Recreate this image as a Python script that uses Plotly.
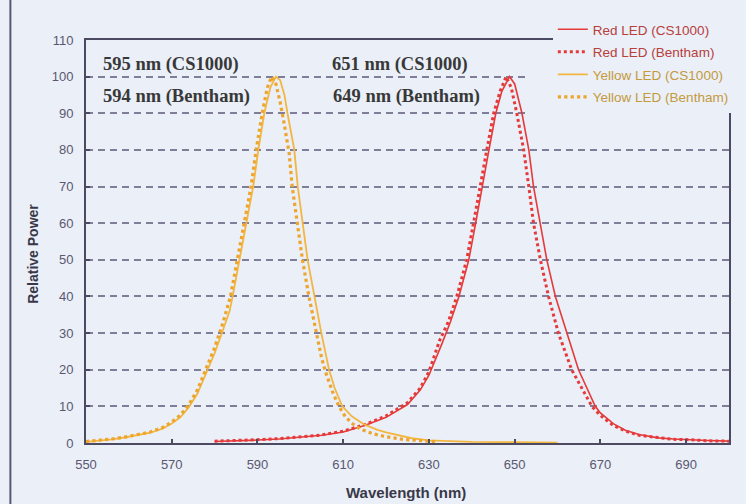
import plotly.graph_objects as go

# ---------------- data ----------------
yellow_cs_wl = [550, 553, 556, 559, 562, 565, 568, 570, 572, 574, 576, 578, 580, 582, 583.5,
                584.2, 585.8, 587.4, 589, 590.2, 591.6, 593, 594.3, 595.3, 596.3, 597, 598.6,
                599.4, 600.5, 601.7, 603.3, 604.9, 606.7, 608, 609.8, 612, 615, 618,
                620, 623, 626, 630, 635, 640, 650, 660]
yellow_cs_val = [0.3, 0.6, 1.0, 1.5, 2.1, 2.8, 4.0, 5.3, 7.0, 9.8, 13.5, 18.8, 24.5, 31.0, 36.0,
                 40, 50, 60, 70, 80, 90, 97, 100, 99, 95, 90, 80,
                 70, 60, 50, 40, 30, 20, 15, 10, 7.3, 5.0, 3.6,
                 2.9, 2.0, 1.3, 0.7, 0.4, 0.3, 0.2, 0.1]

yellow_bt_wl = [550, 553, 556, 559, 562, 565, 568, 570, 572, 574, 576, 578, 580, 582, 583.7,
                585.3, 586.9, 588.5, 589.7, 591.1, 592.3, 593.3, 594.3, 595.3, 596.4, 597.4,
                598.1, 599.3, 600.5, 602, 603.7, 605, 606, 607.5, 609, 610.5, 612, 614, 617,
                620, 624, 628, 632]
yellow_bt_val = [0.4, 0.7, 1.1, 1.6, 2.3, 3.0, 4.3, 5.7, 7.6, 10.5, 14.5, 20, 26, 33, 40,
                 50, 60, 70, 80, 90, 97, 100, 98, 93, 86, 79,
                 70, 60, 50, 40, 30, 23, 19, 14, 10, 7.2, 5.4, 3.8, 2.5,
                 1.7, 1.0, 0.6, 0.3]

red_cs_wl = [580, 585, 590, 595, 600, 605, 610, 615, 620, 625, 628, 630, 633, 635, 637, 639.3,
             640.9, 642.4, 644, 645.6, 647, 648.8, 650, 651.7, 653.3, 654.4, 656, 657.5,
             659.5, 662.2, 664.9, 668.8, 670, 673, 675.8, 679, 683.5, 687, 691, 695, 700]
red_cs_val = [0.4, 0.5, 0.8, 1.1, 1.5, 2.1, 3.0, 4.8, 7.0, 10.5, 14.5, 18.5, 27, 33, 40, 50,
              60, 70, 80, 90, 96, 100, 98, 90, 80, 70, 60, 50,
              40, 30, 20, 10, 8.2, 5.3, 3.5, 2.3, 1.4, 1.1, 1.0, 0.7, 0.5]

red_bt_wl = [580, 585, 590, 595, 600, 605, 610, 615, 620, 625, 628, 630, 632.5, 634.5, 636.5, 638.8,
             640.4, 641.9, 643.5, 645.1, 646.6, 648, 649.2, 650.5, 652.1, 653.3, 654.4, 656,
             657.9, 660.2, 663.3, 668, 670, 673, 676, 679, 684, 687, 691, 695, 700]
red_bt_val = [0.5, 0.6, 0.9, 1.2, 1.6, 2.2, 3.2, 5.0, 7.4, 11, 15, 19.5, 28, 33, 40, 50,
              60, 70, 80, 90, 96, 100, 97, 90, 80, 70, 60, 50,
              40, 30, 20, 10, 7.5, 4.8, 3.2, 2.1, 1.3, 1.0, 0.9, 0.6, 0.5]

series_names = ["Red LED (CS1000)", "Red LED (Bentham)", "Yellow LED (CS1000)", "Yellow LED (Bentham)"]
x_tick_vals = [550, 570, 590, 610, 630, 650, 670, 690]
x_tick_text = ["550", "570", "590", "610", "630", "650", "670", "690"]
y_tick_vals = [0, 10, 20, 30, 40, 50, 60, 70, 80, 90, 100, 110]
peak_labels = ["595 nm (CS1000)", "594 nm (Bentham)", "651 nm (CS1000)", "649 nm (Bentham)"]

# ---------------- styling ----------------
BG = "#eaeff8"
FRAME = "#4c4a62"
RED = "#e63a3a"
YEL = "#f3b640"
YEL_DOT = "#eea52c"
RED_TXT = "#b8403c"
YEL_TXT = "#c49a3c"

fig = go.Figure()
fig.add_trace(go.Scatter(x=red_cs_wl, y=red_cs_val, mode="lines", line=dict(color=RED, width=1.6),
                         name=f'<span style="color:{RED_TXT}">{series_names[0]}</span>', legendgroup="a"))
fig.add_trace(go.Scatter(x=red_bt_wl, y=red_bt_val, mode="lines", line=dict(color=RED, width=3, dash="dot"),
                         name=f'<span style="color:{RED_TXT}">{series_names[1]}</span>', legendgroup="b"))
fig.add_trace(go.Scatter(x=yellow_cs_wl, y=yellow_cs_val, mode="lines", line=dict(color=YEL, width=1.8),
                         name=f'<span style="color:{YEL_TXT}">{series_names[2]}</span>', legendgroup="c"))
fig.add_trace(go.Scatter(x=yellow_bt_wl, y=yellow_bt_val, mode="lines", line=dict(color=YEL_DOT, width=3.2, dash="dot"),
                         name=f'<span style="color:{YEL_TXT}">{series_names[3]}</span>', legendgroup="d"))

# peak annotations
ann_font = dict(family="Liberation Serif, Times New Roman, serif", size=18.5, color="#383838")
ann_pos = [(553.4, 103.4), (553.4, 94.6), (607.0, 103.4), (607.2, 94.6)]
for (ax, ay), txt in zip(ann_pos, peak_labels):
    fig.add_annotation(x=ax, y=ay, xref="x", yref="y", text=f"<b>{txt}</b>", showarrow=False,
                       xanchor="left", yanchor="middle", font=ann_font)

# axis titles
fig.add_annotation(x=-0.0836, y=0.47, xref="paper", yref="paper", text="<b>Relative Power</b>",
                   textangle=-90, showarrow=False,
                   font=dict(family="Liberation Sans, Arial, sans-serif", size=14, color="#3a3848"),
                   xanchor="center", yanchor="middle")
fig.add_annotation(x=0.498, y=-0.124, xref="paper", yref="paper", text="<b>Wavelength (nm)</b>",
                   showarrow=False, font=dict(family="Liberation Sans, Arial, sans-serif", size=15, color="#3a3848"),
                   xanchor="center", yanchor="middle")

# cover gridlines behind legend area
fig.add_shape(type="rect", xref="x", yref="y", x0=652.8, x1=700, y0=88.7, y1=110,
              fillcolor=BG, line=dict(width=0), layer="between")
# outer border on the left
fig.add_shape(type="line", xref="paper", yref="paper", x0=-0.1176, x1=-0.1176, y0=-0.16, y1=1.1,
              line=dict(color="#5a5870", width=2))

tick_font = dict(family="Liberation Sans, Arial, sans-serif", size=13, color="#5a5870")
fig.update_xaxes(range=[550, 700], tickvals=x_tick_vals, ticktext=x_tick_text, showgrid=False,
                 showline=True, mirror=True, linecolor=FRAME, linewidth=2, ticks="inside", ticklen=4,
                 tickcolor=FRAME, tickwidth=1.5, tickfont=tick_font, zeroline=False, ticklabelstandoff=8)
fig.update_yaxes(range=[0, 110], tickvals=y_tick_vals, showgrid=True, gridcolor="#7f7d98", gridwidth=2,
                 griddash="7px,5px", showline=True, mirror=True, linecolor=FRAME, linewidth=2,
                 ticks="inside", ticklen=4, tickcolor=FRAME, tickwidth=1.5, tickfont=tick_font,
                 zeroline=False, ticklabelstandoff=8)

fig.update_layout(
    width=746, height=504, autosize=False,
    margin=dict(l=86, r=14, t=40, b=61),
    paper_bgcolor=BG, plot_bgcolor=BG,
    legend=dict(x=0.726, y=1.0645, xanchor="left", yanchor="top", bgcolor=BG,
                font=dict(family="Liberation Sans, Arial, sans-serif", size=13.5),
                traceorder="grouped", tracegroupgap=2),
)

fig.write_html("out.html")
